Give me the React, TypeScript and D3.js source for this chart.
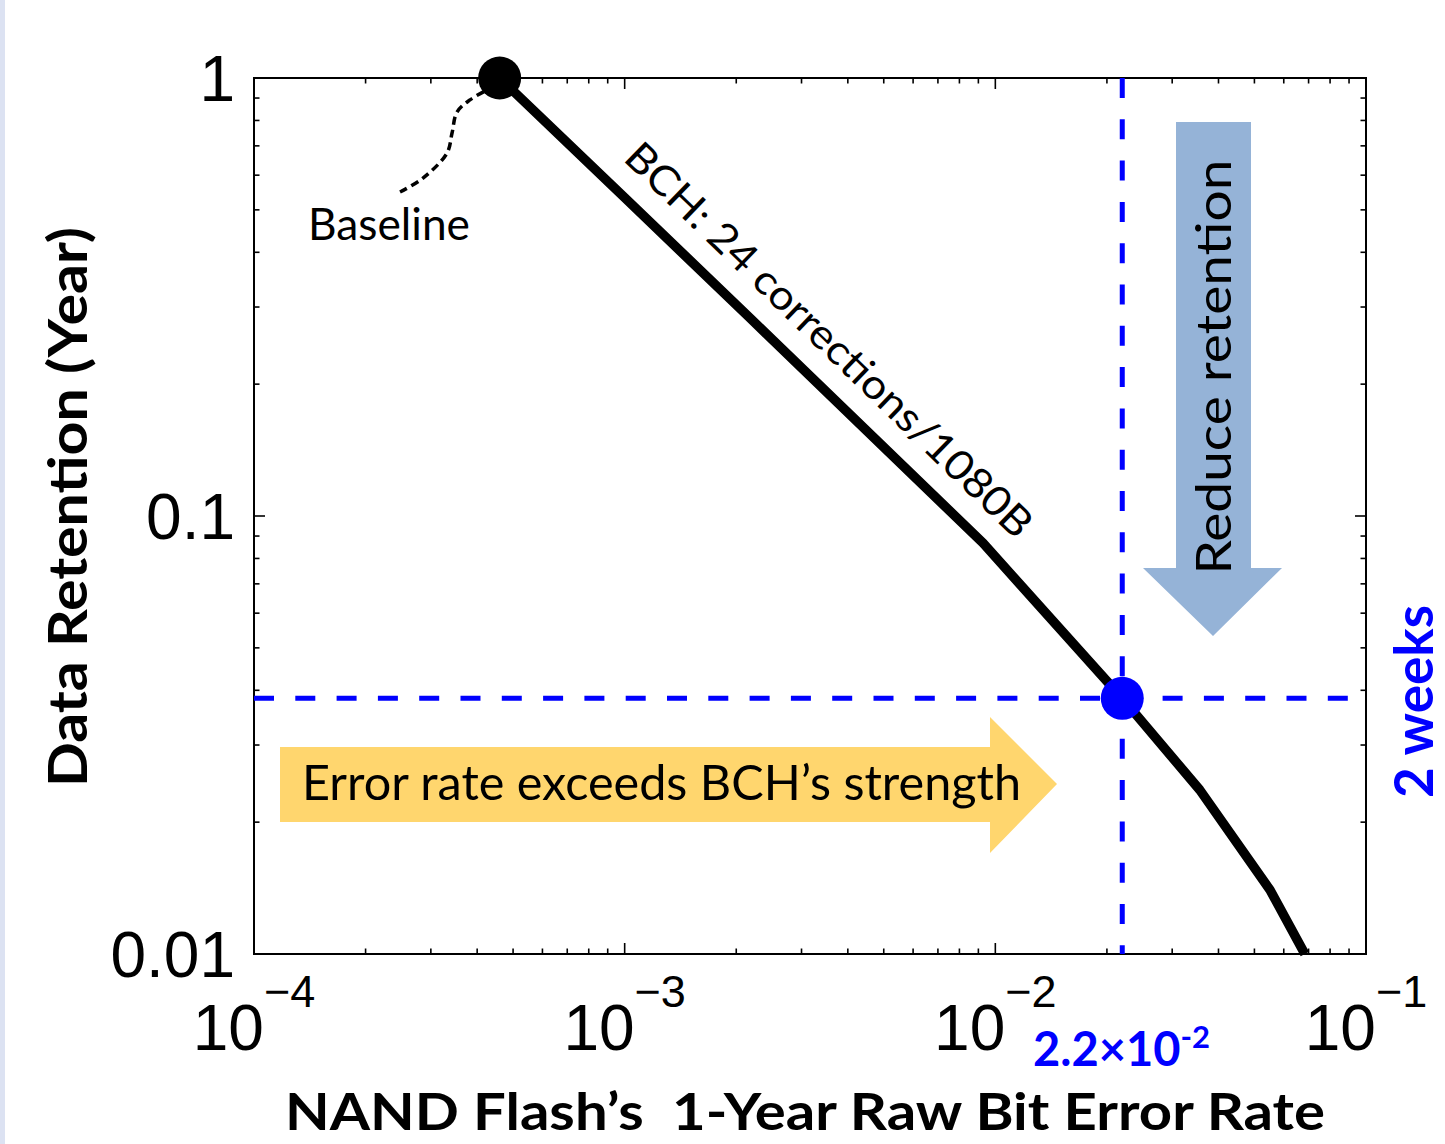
import React from "react";
import * as d3 from "d3";

// ---- data ----
const curveRBER = [4.6e-4, 1.0e-3, 2.18e-3, 9.27e-3, 2.2e-2, 3.56e-2, 5.51e-2, 6.84e-2];
const curveRetention = [1, 0.533, 0.283, 0.0867, 0.03836, 0.0237, 0.014, 0.01];
const baselineLeaderX = [2.477e-4, 2.857e-4, 3.317e-4, 3.422e-4, 3.529e-4, 3.825e-4, 4.25e-4];
const baselineLeaderY = [0.549, 0.591, 0.674, 0.749, 0.836, 0.891, 0.939];
const baselinePoint = { x: 4.6e-4, y: 1 };
const thresholdPoint = { x: 2.2e-2, y: 14 / 365 };
const xMajorTicks = [1e-4, 1e-3, 1e-2, 1e-1];
const xTickExp = ["−4", "−3", "−2", "−1"];
const yMajorTicks = [1, 0.1, 0.01];
const yTickLabels = ["1", "0.1", "0.01"];

const W = 1445;
const H = 1144;
const L = 254, R = 1366, T = 78, B = 954;

export default function App() {
  const x = d3.scaleLog().domain([1e-4, 1e-1]).range([L, R]);
  const y = d3.scaleLog().domain([0.01, 1]).range([B, T]);
  const isMajor = (v: number) => Math.abs(Math.log10(v) - Math.round(Math.log10(v))) < 1e-6;

  const xt = x.ticks();
  const yt = y.ticks();

  const curve = d3.line<number>()
    .x((_, i) => x(curveRBER[i]))
    .y((_, i) => y(curveRetention[i]))(curveRBER as any) as string;

  const leader = d3.line<number>()
    .x((_, i) => x(baselineLeaderX[i]))
    .y((_, i) => y(baselineLeaderY[i]))
    .curve(d3.curveCatmullRom)(baselineLeaderX as any) as string;

  const tx = x(thresholdPoint.x);
  const ty = y(thresholdPoint.y);

  const calibri = "Lato, 'Open Sans', sans-serif";
  const arial = "'Liberation Sans', Arial, sans-serif";
  const blue = "#0000ff";

  const yellowArrow = "M280,747 L990,747 L990,717 L1057,784 L990,853 L990,822 L280,822 Z";
  const blueArrow = "M1176,122 L1251,122 L1251,568 L1282,568 L1213,636 L1143,568 L1176,568 Z";

  return (
    <svg width={W} height={H} style={{ position: "absolute", left: 0, top: 0, display: "block", background: "#fff" }}>
      <rect x={0} y={0} width={W} height={H} fill="#fff" />
      <rect x={0} y={0} width={5} height={H} fill="#dce2f2" />

      {/* annotation arrows */}
      <path d={yellowArrow} fill="#ffd66e" />
      <path d={blueArrow} fill="#95b3d7" />

      {/* axis box */}
      <rect x={L} y={T} width={R - L} height={B - T} fill="none" stroke="#000" strokeWidth={2} />
      {xt.map((v, i) => {
        const len = isMajor(v) ? 11 : 5.5;
        return (
          <g key={"xt" + i}>
            <line x1={x(v)} x2={x(v)} y1={B} y2={B - len} stroke="#000" strokeWidth={1.6} />
            <line x1={x(v)} x2={x(v)} y1={T} y2={T + len} stroke="#000" strokeWidth={1.6} />
          </g>
        );
      })}
      {yt.map((v, i) => {
        const len = isMajor(v) ? 11 : 5.5;
        return (
          <g key={"yt" + i}>
            <line x1={L} x2={L + len} y1={y(v)} y2={y(v)} stroke="#000" strokeWidth={1.6} />
            <line x1={R} x2={R - len} y1={y(v)} y2={y(v)} stroke="#000" strokeWidth={1.6} />
          </g>
        );
      })}

      {/* tick labels */}
      {xMajorTicks.map((v, i) => (
        <text key={"xl" + i} x={x(v)} y={1050} textAnchor="middle" fontFamily={arial} fontSize={64} fill="#000">
          <tspan>10</tspan>
          <tspan fontSize={45} dy={-43}>{xTickExp[i]}</tspan>
        </text>
      ))}
      {yMajorTicks.map((v, i) => (
        <text key={"yl" + i} x={235} y={y(v) + 23} textAnchor="end" fontFamily={arial} fontSize={64} fill="#000">
          {yTickLabels[i]}
        </text>
      ))}

      {/* threshold dashed lines */}
      <line x1={tx} x2={tx} y1={T} y2={B} stroke={blue} strokeWidth={5} strokeDasharray="20 21.3" />
      <line x1={L} x2={R} y1={ty} y2={ty} stroke={blue} strokeWidth={5} strokeDasharray="20 21.3" />

      {/* curve */}
      <path d={curve} fill="none" stroke="#000" strokeWidth={9.5} strokeLinejoin="round" />
      <path d={leader} fill="none" stroke="#000" strokeWidth={3.5} strokeDasharray="8 5" />
      <circle cx={x(baselinePoint.x)} cy={y(baselinePoint.y)} r={21.5} fill="#000" />
      <circle cx={tx} cy={ty} r={21.5} fill={blue} />

      {/* texts */}
      <text x={308} y={240} fontFamily={calibri} fontSize={44} textLength={162} lengthAdjust="spacingAndGlyphs" fill="#000">Baseline</text>
      <text transform="translate(819,350) rotate(44)" textAnchor="middle" fontFamily={calibri} fontSize={41}
        textLength={548} lengthAdjust="spacingAndGlyphs" fill="#000">BCH: 24 corrections/1080B</text>
      <text transform="translate(1231,367) rotate(-90)" textAnchor="middle" fontFamily={calibri} fontSize={49}
        textLength={415} lengthAdjust="spacingAndGlyphs" fill="#000">Reduce retention</text>
      <text x={661.5} y={800} textAnchor="middle" fontFamily={calibri} fontSize={49}
        textLength={719} lengthAdjust="spacingAndGlyphs" fill="#000">Error rate exceeds BCH’s strength</text>

      <text x={805} y={1130} textAnchor="middle" fontFamily={calibri} fontWeight={700} fontSize={52}
        textLength={1040} lengthAdjust="spacingAndGlyphs" fill="#000" style={{ whiteSpace: "pre" }}>NAND Flash’s  1-Year Raw Bit Error Rate</text>
      <text transform="translate(87,507) rotate(-90)" textAnchor="middle" fontFamily={calibri} fontWeight={700} fontSize={54}
        textLength={560} lengthAdjust="spacingAndGlyphs" fill="#000">Data Retention (Year)</text>
      <text transform="translate(1433,701.5) rotate(-90)" textAnchor="middle" fontFamily={calibri} fontWeight={700} fontSize={54}
        textLength={193} lengthAdjust="spacingAndGlyphs" fill={blue}>2 weeks</text>
      <text x={1033} y={1066} fontFamily={calibri} fontWeight={700} fontSize={47} fill={blue}>
        <tspan>2.2×10</tspan>
        <tspan fontSize={31} dy={-18}>-2</tspan>
      </text>
    </svg>
  );
}
